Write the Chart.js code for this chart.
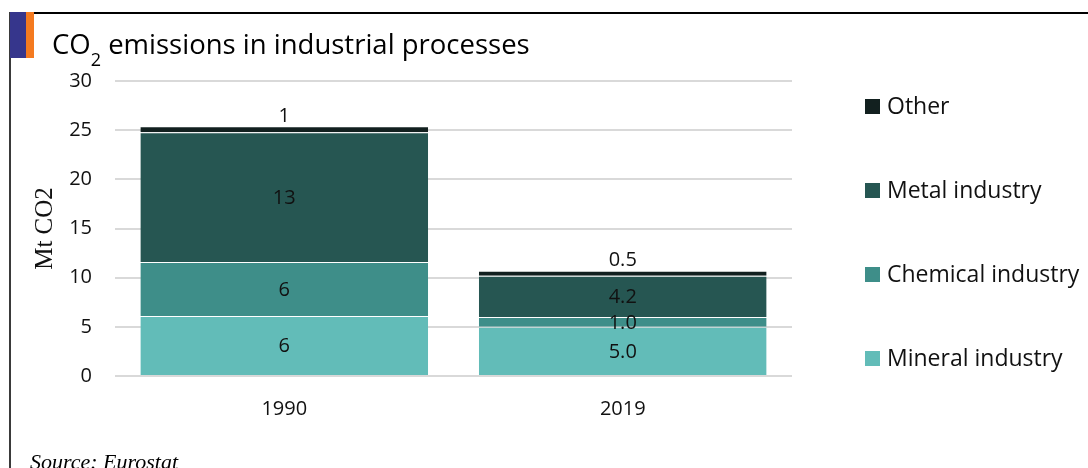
<!DOCTYPE html>
<html>
<head>
<meta charset="utf-8">
<script src="https://cdn.jsdelivr.net/npm/chart.js@4.4.1/dist/chart.umd.min.js"></script>
<style>
  html, body { margin: 0; padding: 0; background: #fff; }
  body { width: 1088px; height: 468px; position: relative; overflow: hidden; font-family: 'Open Sans', sans-serif; }
  #wrap { position: absolute; left: 0; top: 0; width: 1088px; height: 468px; }
  .topline { position: absolute; left: 9px; top: 12px; right: 0; height: 2px; background: #000; }
  .leftline { position: absolute; left: 9px; top: 12px; width: 2px; bottom: 0; background: #3a3a3a; }
  .blue { position: absolute; left: 10px; top: 12px; width: 16px; height: 46px; background: #36368c; }
  .orange { position: absolute; left: 26px; top: 12px; width: 8px; height: 46px; background: #f47a20; }
  .title { position: absolute; left: 52px; top: 30px; font-size: 27.5px; line-height: 1; color: #000; white-space: nowrap; }
  .title .sub { font-size: 18px; position: relative; top: 12px; }
  .source { position: absolute; left: 30px; top: 451px; font-family: 'Liberation Serif', serif; font-style: italic; font-size: 22px; line-height: 1; color: #000; white-space: nowrap; }
</style>
</head>
<body>
<div id="wrap"><canvas id="c" width="1088" height="468"></canvas></div>
<div class="topline"></div>
<div class="leftline"></div>
<div class="blue"></div>
<div class="orange"></div>
<div class="title">CO<span class="sub">2</span> emissions in industrial processes</div>
<div class="source">Source: Eurostat</div>
<script>
// ---- data ----
const categories = ['1990', '2019'];
const mineral = [6.1, 5.0];
const chemical = [5.5, 1.0];
const metal = [13.2, 4.2];
const other = [0.6, 0.5];
const labelDecimals = [0, 1];
const seriesNames = ['Mineral industry', 'Chemical industry', 'Metal industry', 'Other'];
const seriesColors = ['#62bcb8', '#3e8e89', '#265652', '#12201f'];
const yTicks = [0, 5, 10, 15, 20, 25, 30];
const yTitle = 'Mt CO2';

Chart.defaults.font.family = "'Open Sans', sans-serif";
Chart.defaults.color = '#111';

const seriesValues = [mineral, chemical, metal, other];
const datasets = seriesValues.map((vals, i) => ({
  label: seriesNames[i],
  data: vals,
  backgroundColor: seriesColors[i],
  borderColor: 'rgba(255,255,255,0.22)',
  borderWidth: { top: 1, left: 0, right: 0, bottom: 0 },
  borderSkipped: 'start',
  categoryPercentage: 1.0,
  barPercentage: 0.85
}));

const labelPlugin = {
  id: 'segLabels',
  afterDatasetsDraw(chart) {
    const ctx = chart.ctx;
    ctx.save();
    ctx.font = "20px 'Open Sans', sans-serif";
    ctx.fillStyle = '#111';
    ctx.textAlign = 'center';
    ctx.textBaseline = 'middle';
    const last = chart.data.datasets.length - 1;
    chart.data.datasets.forEach((ds, di) => {
      const meta = chart.getDatasetMeta(di);
      meta.data.forEach((bar, j) => {
        const p = bar.getProps(['x', 'y', 'base'], true);
        const txt = Number(ds.data[j]).toFixed(labelDecimals[j]);
        let y = (p.y + p.base) / 2 + 1;
        if (di === last) y = p.y - 10;
        ctx.fillText(txt, p.x, y);
      });
    });
    ctx.restore();
  }
};

const legendPlugin = {
  id: 'sideLegend',
  afterDraw(chart) {
    const ctx = chart.ctx;
    const area = chart.chartArea;
    ctx.save();
    ctx.font = "23px 'Open Sans', sans-serif";
    ctx.textAlign = 'left';
    ctx.textBaseline = 'middle';
    const n = chart.data.datasets.length;
    const x0 = area.right + 73;
    const step = 84;
    const firstY = area.top + 25.5;
    for (let k = 0; k < n; k++) {
      const ds = chart.data.datasets[n - 1 - k];
      const cy = firstY + k * step;
      ctx.fillStyle = ds.backgroundColor;
      ctx.fillRect(x0, cy - 7.5, 15, 15);
      ctx.fillStyle = '#111';
      ctx.fillText(ds.label, x0 + 22, cy + 1);
    }
    ctx.restore();
  }
};

new Chart(document.getElementById('c'), {
  type: 'bar',
  data: { labels: categories, datasets },
  options: {
    responsive: false,
    animation: false,
    layout: { padding: { top: 81, left: 0, right: 296, bottom: 42 } },
    plugins: { legend: { display: false }, tooltip: { enabled: false }, title: { display: false } },
    scales: {
      x: {
        stacked: true,
        grid: { display: false },
        border: { display: false },
        ticks: { font: { size: 20 }, color: '#111', padding: 13 },
        afterFit(s) { s.height = 50; }
      },
      y: {
        stacked: true,
        min: 0,
        max: 30,
        afterBuildTicks(s) { s.ticks = yTicks.map(v => ({ value: v })); },
        grid: { color: '#d9d9d9', lineWidth: 2, drawTicks: false },
        border: { display: false },
        ticks: { font: { size: 20 }, color: '#111', padding: 23 },
        title: { display: true, text: yTitle, font: { family: "'Liberation Serif', serif", size: 25 }, color: '#111', padding: { top: 30, bottom: 0 } },
        afterFit(s) { s.width = 115; }
      }
    }
  },
  plugins: [labelPlugin, legendPlugin]
});
</script>
</body>
</html>
